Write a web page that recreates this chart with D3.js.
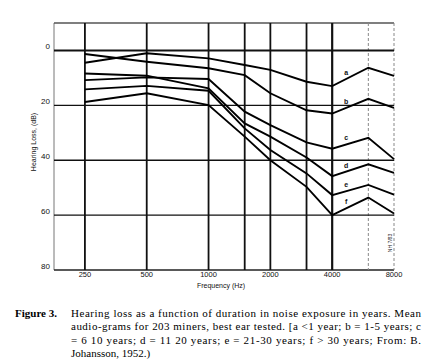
<!DOCTYPE html>
<html>
<head>
<meta charset="utf-8">
<script src="https://cdn.jsdelivr.net/npm/d3@7"></script>
<style>
  html, body { margin: 0; padding: 0; background: #fff; }
  svg { display: block; }
</style>
</head>
<body>
<div id="chart"></div>
<script>
// ---- Data ----
const frequencies = [250, 500, 1000, 1500, 2000, 3000, 4000, 6000, 8000];
const seriesA = [4.5, 1.0, 2.9, 5.3, 7.1, 11.4, 13.0, 6.3, 9.3];
const seriesB = [1.3, 4.1, 6.5, 9.0, 15.6, 21.8, 23.0, 17.6, 20.9];
const seriesC = [10.8, 9.8, 10.4, 22.3, 27.2, 33.5, 35.8, 31.8, 39.6];
const seriesD = [8.4, 9.2, 13.8, 26.6, 31.4, 39.0, 45.8, 41.5, 44.6];
const seriesE = [14.2, 12.9, 14.7, 28.4, 36.3, 44.8, 52.7, 49.0, 52.5];
const seriesF = [18.8, 15.6, 19.9, 31.4, 40.0, 49.7, 60.0, 53.6, 59.4];
const seriesLabels = ["a", "b", "c", "d", "e", "f"];
const xTickLabels = [250, 500, 1000, 2000, 4000, 8000];
const xGridFreqs = [250, 500, 1000, 1500, 2000, 3000, 4000, 6000, 8000];
const yTickLabels = [0, 20, 40, 60, 80];
const yGridValues = [0, 20, 40, 60];
const xTitle = "Frequency (Hz)";
const yTitle = "Hearing Loss, (dB)";
const stampText = "NH 7/83";
const captionHead = "Figure 3.";
const captionLines = [
  "Hearing loss as a function of duration in noise exposure in years. Mean",
  "audio-grams for 203 miners, best ear tested. [a <1 year; b = 1-5 years; c",
  "= 6 10 years; d = 11 20 years; e = 21-30 years; f > 30 years; From: B.",
  "Johansson, 1952.)"
];

const allSeries = [seriesA, seriesB, seriesC, seriesD, seriesE, seriesF];

// ---- Layout ----
const W = 432, H = 360;
const svg = d3.select("#chart").append("svg")
  .attr("width", W).attr("height", H)
  .style("background", "#fff");

const x = d3.scaleLog().domain([250 / Math.SQRT2, 8000]).range([54, 394]);
const y = d3.scaleLinear().domain([-10, 80]).range([23, 270]);

const g = svg.append("g");

// Frame: left, top, bottom
g.append("line").attr("x1", x.range()[0]).attr("x2", x.range()[0])
  .attr("y1", y(-10)).attr("y2", y(80))
  .attr("stroke", "#777").attr("stroke-width", 1);
g.append("line").attr("x1", x.range()[0]).attr("x2", x(8000))
  .attr("y1", y(-10)).attr("y2", y(-10))
  .attr("stroke", "#555").attr("stroke-width", 1.5);
g.append("line").attr("x1", x.range()[0]).attr("x2", x(8000))
  .attr("y1", y(80)).attr("y2", y(80))
  .attr("stroke", "#222").attr("stroke-width", 1.5);

// Vertical grid lines
g.selectAll("line.vgrid").data(xGridFreqs).enter().append("line")
  .attr("class", "vgrid")
  .attr("x1", d => x(d)).attr("x2", d => x(d))
  .attr("y1", y(-10)).attr("y2", y(80))
  .attr("stroke", d => (d === 6000 || d === 8000) ? "#888" : "#111")
  .attr("stroke-width", d => (d === 6000 || d === 8000) ? 1 : (d === 4000 ? 2.2 : 1.8))
  .attr("stroke-dasharray", d => (d === 6000 || d === 8000) ? "3,2" : null);

// Horizontal grid lines
g.selectAll("line.hgrid").data(yGridValues).enter().append("line")
  .attr("class", "hgrid")
  .attr("x1", x.range()[0]).attr("x2", x(8000))
  .attr("y1", d => y(d)).attr("y2", d => y(d))
  .attr("stroke", "#111")
  .attr("stroke-width", d => d === 0 ? 2 : 1.4);

// Y tick labels
g.selectAll("text.ytick").data(yTickLabels).enter().append("text")
  .attr("class", "ytick")
  .attr("x", 50).attr("y", d => y(d) - 1)
  .attr("text-anchor", "end")
  .attr("font-family", "Liberation Sans, Arial, sans-serif")
  .attr("font-size", 8).attr("fill", "#111")
  .text(d => d);

// X tick labels
g.selectAll("text.xtick").data(xTickLabels).enter().append("text")
  .attr("class", "xtick")
  .attr("x", d => x(d)).attr("y", y(80) + 7)
  .attr("text-anchor", "middle")
  .attr("font-family", "Liberation Sans, Arial, sans-serif")
  .attr("font-size", 7.5).attr("fill", "#111")
  .text(d => d);

// Axis titles
g.append("text").attr("x", 221).attr("y", 288)
  .attr("text-anchor", "middle")
  .attr("font-family", "Liberation Sans, Arial, sans-serif")
  .attr("font-size", 7).attr("fill", "#111")
  .text(xTitle);
g.append("text")
  .attr("transform", "translate(36,142) rotate(-90)")
  .attr("text-anchor", "middle")
  .attr("font-family", "Liberation Sans, Arial, sans-serif")
  .attr("font-size", 7).attr("fill", "#111")
  .text(yTitle);

// Small stamp
g.append("text")
  .attr("transform", "translate(392,243) rotate(-90)")
  .attr("text-anchor", "middle")
  .attr("font-family", "Liberation Sans, Arial, sans-serif")
  .attr("font-size", 5).attr("fill", "#222")
  .text(stampText);

// Data lines
const line = d3.line()
  .x((d, i) => x(frequencies[i]))
  .y(d => y(d));
g.selectAll("path.series").data(allSeries).enter().append("path")
  .attr("class", "series")
  .attr("d", d => line(d))
  .attr("fill", "none")
  .attr("stroke", "#000")
  .attr("stroke-width", 1.9)
  .attr("stroke-linejoin", "miter");

// Series labels between 4000 and 6000 Hz
const i4 = frequencies.indexOf(4000), i6 = frequencies.indexOf(6000);
g.selectAll("text.slabel").data(allSeries).enter().append("text")
  .attr("class", "slabel")
  .attr("x", () => x(4000) + 14)
  .attr("y", d => {
    const t = 14 / (x(6000) - x(4000));
    const yy = y(d[i4]) + (y(d[i6]) - y(d[i4])) * t;
    return yy - 4;
  })
  .attr("text-anchor", "middle")
  .attr("font-family", "Liberation Sans, Arial, sans-serif")
  .attr("font-size", 7).attr("font-weight", "bold").attr("fill", "#111")
  .text((d, i) => seriesLabels[i]);

// Caption
svg.append("text").attr("x", 15).attr("y", 317)
  .attr("font-family", "Liberation Serif, Times New Roman, serif")
  .attr("font-size", 11).attr("font-weight", "bold").attr("fill", "#000")
  .text(captionHead);
svg.selectAll("text.cap").data(captionLines).enter().append("text")
  .attr("class", "cap")
  .attr("x", 71).attr("y", (d, i) => 317 + i * 13.3)
  .attr("font-family", "Liberation Serif, Times New Roman, serif")
  .attr("font-size", 11).attr("fill", "#000")
  .each(function(d, i) {
    if (i < captionLines.length - 1) {
      d3.select(this).attr("textLength", 350).attr("lengthAdjust", "spacing");
    }
  })
  .text(d => d);
</script>
</body>
</html>
